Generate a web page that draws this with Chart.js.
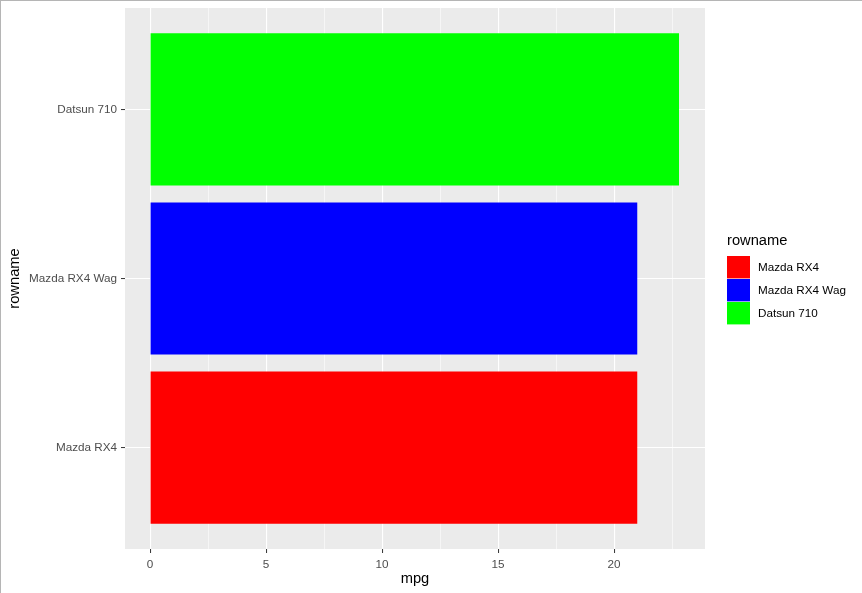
<!DOCTYPE html>
<html>
<head>
<meta charset="utf-8">
<script src="https://cdn.jsdelivr.net/npm/chart.js@4"></script>
<style>
  html, body { margin: 0; padding: 0; background: #fff; }
  #wrap { position: relative; width: 862px; height: 593px; }
  #frame {
    position: absolute; left: 0; top: 0; width: 861px; height: 592px;
    border-left: 1px solid #b5b5b5; border-top: 1px solid #b5b5b5;
    pointer-events: none;
  }
</style>
</head>
<body>
<div id="wrap">
  <canvas id="chart" width="862" height="593"></canvas>
  <div id="frame"></div>
</div>
<script>
/* =====================================================
   DATA
===================================================== */

const cars = ["Mazda RX4", "Mazda RX4 Wag", "Datsun 710"];
const mpg = [21.0, 21.0, 22.8];
const carColors = ["#FF0000", "#0000FF", "#00FF00"];

const majorTicks = [0, 5, 10, 15, 20];
const minorTicks = [2.5, 7.5, 12.5, 17.5, 22.5];
const legendTitle = "rowname";

const FONT = "'Liberation Sans', Arial, sans-serif";


/* =====================================================
   PANEL BACKGROUND + LEGEND (ggplot look)
===================================================== */

const ggPanel = {
  id: "ggPanel",
  beforeDraw(chart) {
    const a = chart.chartArea;
    const ctx = chart.ctx;
    ctx.save();
    ctx.fillStyle = "#EBEBEB";
    ctx.fillRect(a.left, a.top, a.right - a.left, a.bottom - a.top);
    ctx.restore();
  },
  afterDraw(chart) {
    const ctx = chart.ctx;
    const x0 = 727, y0 = 256, key = 23;
    ctx.save();
    ctx.fillStyle = "#000";
    ctx.font = "14.7px " + FONT;
    ctx.textBaseline = "middle";
    ctx.textAlign = "left";
    ctx.fillText(legendTitle, x0, 241);

    ctx.font = "11.7px " + FONT;
    cars.forEach((name, i) => {
      const y = y0 + i * key;
      ctx.fillStyle = carColors[i];
      ctx.fillRect(x0, y, key, key - 0.6);
      ctx.fillStyle = "#000";
      ctx.fillText(name, x0 + 31, y + key / 2);
    });
    ctx.restore();
  }
};


/* =====================================================
   CHART
===================================================== */

const isMajor = v => majorTicks.includes(v);

new Chart(document.getElementById("chart"), {
  type: "bar",
  data: {
    datasets: [{
      label: "mpg",
      data: cars.map((c, i) => ({ x: mpg[i], y: i })),
      backgroundColor: carColors,
      borderWidth: 0,
      categoryPercentage: 0.9,
      barPercentage: 1.0
    }]
  },
  plugins: [ggPanel],
  options: {
    indexAxis: "y",
    responsive: false,
    animation: false,
    layout: { padding: { left: 0, top: 8, right: 157, bottom: 0 } },
    plugins: {
      legend: { display: false },
      tooltip: { enabled: false }
    },
    scales: {
      x: {
        type: "linear",
        min: -1.08,
        max: 23.92,
        afterBuildTicks: s => {
          s.ticks = majorTicks.concat(minorTicks).sort((a, b) => a - b).map(v => ({ value: v }));
        },
        afterFit: s => {
          s.height = 44;
          s.paddingLeft = 0;
          s.paddingRight = 0;
        },
        border: { display: false },
        grid: {
          color: "#FFFFFF",
          lineWidth: c => isMajor(c.tick.value) ? 1.1 : 0.55,
          tickColor: c => isMajor(c.tick.value) ? "#333333" : "rgba(0,0,0,0)",
          tickLength: 4,
          tickWidth: 1
        },
        ticks: {
          autoSkip: false,
          maxRotation: 0,
          padding: 5,
          color: "#4D4D4D",
          font: { family: FONT, size: 11.7 },
          callback: v => isMajor(v) ? String(v) : ""
        },
        title: {
          display: true,
          text: "mpg",
          color: "#000",
          font: { family: FONT, size: 14.7 },
          padding: { top: 3, bottom: 5 }
        }
      },
      y: {
        type: "linear",
        offset: false,
        min: -0.6,
        max: 2.6,
        afterBuildTicks: s => {
          s.ticks = cars.map((c, i) => ({ value: i }));
        },
        afterFit: s => {
          s.width = 125;
          s.paddingTop = 0;
          s.paddingBottom = 0;
        },
        border: { display: false },
        grid: {
          offset: false,
          color: "#FFFFFF",
          lineWidth: 1.1,
          tickColor: "#333333",
          tickLength: 4,
          tickWidth: 1
        },
        ticks: {
          autoSkip: false,
          padding: 4,
          color: "#4D4D4D",
          font: { family: FONT, size: 11.7 },
          callback: v => cars[v]
        },
        title: {
          display: true,
          text: "rowname",
          color: "#000",
          font: { family: FONT, size: 14.7 },
          padding: { top: 6, bottom: 0 }
        }
      }
    }
  }
});
</script>
</body>
</html>
